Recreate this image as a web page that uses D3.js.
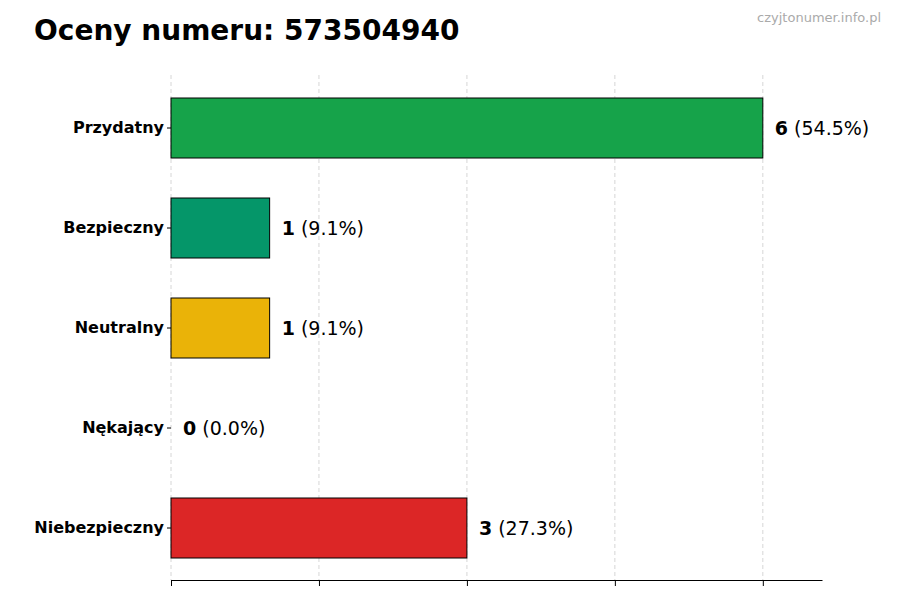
<!DOCTYPE html>
<html><head><meta charset="utf-8">
<script src="https://cdn.jsdelivr.net/npm/d3@7"></script>
<style>body{margin:0;background:#fff;font-family:"DejaVu Sans",sans-serif}</style>
</head><body><svg id="c" width="900" height="600"></svg>
<script>
const categories = ["Przydatny","Bezpieczny","Neutralny","Nękający","Niebezpieczny"];
const values = [6,1,1,0,3];
const percents = ["54.5%","9.1%","9.1%","0.0%","27.3%"];
const colors = ["#16a34a","#059669","#eab308","#9333ea","#dc2626"];
const tickValues = [0,1.5,3,4.5,6];

const svg = d3.select("#c");
const x = d3.scaleLinear().domain([0,6.6]).range([171,822]);
const y = d3.scaleBand().domain(categories).range([78,578]).paddingInner(0.4).paddingOuter(0.2);

svg.append("text").attr("x",34).attr("y",40).attr("font-size",28).attr("font-weight","bold").text("Oceny numeru: 573504940");
svg.append("text").attr("x",881).attr("y",22).attr("text-anchor","end").attr("font-size",13).attr("fill","#aaa").text("czyjtonumer.info.pl");

svg.append("g").selectAll("line").data(tickValues).join("line")
 .attr("x1",d=>x(d)).attr("x2",d=>x(d)).attr("y1",75).attr("y2",580)
 .attr("stroke","#ccc").attr("stroke-dasharray","4,3").attr("stroke-width",0.8);

svg.append("g").attr("transform","translate(0,580)")
 .call(d3.axisBottom(x).tickValues(tickValues).tickFormat("").tickSize(6).tickSizeOuter(0))
 .call(g=>g.select(".domain").attr("stroke","#000"));

svg.append("g").attr("transform","translate(171,0)")
 .call(d3.axisLeft(y).tickSize(4))
 .call(g=>g.select(".domain").remove())
 .call(g=>g.selectAll("text").attr("font-size",16).attr("font-weight","bold").attr("fill","#000").attr("font-family","DejaVu Sans"));

svg.append("g").selectAll("rect").data(categories).join("rect")
 .attr("x",x(0)).attr("y",d=>y(d)).attr("height",y.bandwidth())
 .attr("width",(d,i)=>x(values[i])-x(0)).attr("fill",(d,i)=>colors[i])
 .attr("stroke","#000").attr("stroke-width",1);

const lbl = svg.append("g").selectAll("text").data(categories).join("text")
 .attr("x",(d,i)=>x(values[i])+12).attr("y",d=>y(d)+y.bandwidth()/2).attr("dy","0.35em").attr("font-size",19);
lbl.append("tspan").attr("font-weight","bold").text((d,i)=>values[i]);
lbl.append("tspan").text((d,i)=>" ("+percents[i]+")");
</script></body></html>
